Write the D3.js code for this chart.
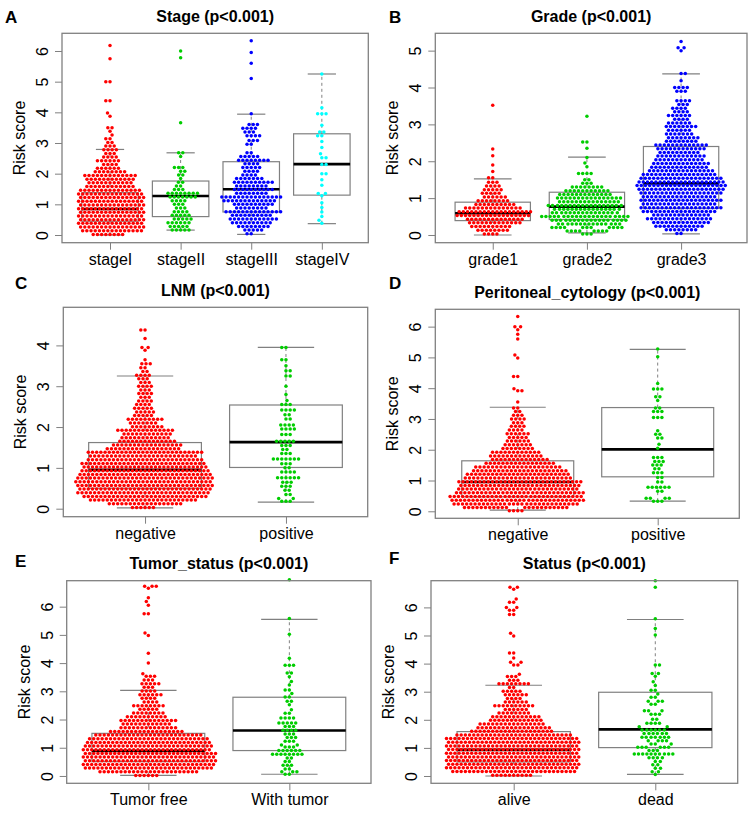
<!DOCTYPE html>
<html><head><meta charset="utf-8">
<script src="https://cdn.jsdelivr.net/npm/d3@7"></script>
<style>body{margin:0;background:#fff}svg{display:block;font-family:"Liberation Sans",Arial,sans-serif}</style>
</head><body><svg id="c" width="753" height="813"></svg>
<script>
// ---------- DATA (beeswarm rows: [risk score, number of dots]) ----------
const stageCats = ["stageI","stageII","stageIII","stageIV"];
const stageI = [[6.18,1],[5.75,1],[5.0,2],[4.38,2],[3.98,1],[3.87,1],[3.5,2],[3.38,1],[3.26,1],[3.14,2],[3.02,2],[2.9,3],[2.78,4],[2.66,3],[2.54,4],[2.42,6],[2.3,4],[2.18,6],[2.06,8],[1.94,13],[1.82,12],[1.7,11],[1.58,12],[1.46,15],[1.34,16],[1.22,16],[1.1,16],[0.98,16],[0.86,16],[0.74,16],[0.62,16],[0.5,16],[0.38,16],[0.26,16],[0.14,15],[0.02,8]];
const stageII = [[6.0,1],[5.78,1],[3.66,1],[2.68,2],[2.56,1],[2.2,3],[2.08,2],[1.96,2],[1.84,1],[1.72,2],[1.6,2],[1.48,3],[1.36,8],[1.24,7],[1.12,4],[1.0,3],[0.88,3],[0.76,4],[0.64,5],[0.52,5],[0.4,6],[0.28,5],[0.16,5]];
const stageIII = [[6.33,1],[5.95,1],[5.6,1],[5.1,1],[3.95,1],[3.6,3],[3.48,4],[3.36,3],[3.24,4],[3.08,3],[2.96,2],[2.68,2],[2.56,5],[2.44,8],[2.32,4],[2.2,5],[2.08,4],[1.96,4],[1.84,7],[1.72,10],[1.6,8],[1.48,10],[1.36,8],[1.24,15],[1.12,13],[1.0,10],[0.88,8],[0.76,14],[0.64,10],[0.52,12],[0.4,10],[0.28,8],[0.16,5],[0.04,2]];
const stageIV = [[5.25,1],[4.15,1],[3.95,3],[3.58,1],[3.36,2],[3.24,2],[3.05,1],[2.85,1],[2.65,1],[2.52,2],[2.3,2],[2.0,2],[1.8,1],[1.62,1],[1.35,2],[1.28,1],[1.05,1],[0.9,1],[0.75,1],[0.6,1],[0.48,1],[0.38,1]];
const stageBox = [[0.0,0.45,0.85,1.38,2.79],[0.16,0.6,1.27,1.76,2.68],[0.02,0.75,1.49,2.39,3.94],[0.37,1.3,2.31,3.3,5.25]];

const gradeCats = ["grade1","grade2","grade3"];
const grade1 = [[3.52,1],[2.33,1],[2.15,1],[1.9,1],[1.72,1],[1.55,2],[1.43,3],[1.33,4],[1.23,5],[1.13,5],[1.03,6],[0.93,8],[0.83,10],[0.73,14],[0.63,18],[0.53,18],[0.43,14],[0.33,13],[0.23,10],[0.13,8],[0.03,4]];
const grade2 = [[3.22,1],[2.52,2],[2.35,1],[2.1,1],[1.95,1],[1.85,1],[1.67,4],[1.5,2],[1.4,3],[1.3,8],[1.2,11],[1.1,13],[1.0,16],[0.9,15],[0.8,18],[0.7,16],[0.6,16],[0.5,21],[0.4,18],[0.3,15],[0.2,11],[0.11,8],[0.03,3]];
const grade3 = [[5.25,1],[5.08,2],[5.0,1],[4.38,2],[4.18,1],[4.0,4],[3.9,3],[3.64,4],[3.54,3],[3.44,4],[3.34,4],[3.24,6],[3.14,4],[3.04,6],[2.94,8],[2.84,6],[2.74,7],[2.64,8],[2.54,8],[2.44,13],[2.34,12],[2.24,10],[2.14,12],[2.04,12],[1.94,14],[1.84,14],[1.74,16],[1.64,18],[1.54,20],[1.44,21],[1.34,22],[1.24,21],[1.14,20],[1.04,18],[0.94,20],[0.84,18],[0.74,20],[0.64,18],[0.54,14],[0.44,16],[0.34,14],[0.24,12],[0.14,8],[0.04,2]];
const gradeBox = [[0.0,0.39,0.59,0.89,1.52],[0.06,0.42,0.77,1.16,2.11],[0.03,0.72,1.4,2.4,4.37]];

const lnmCats = ["negative","positive"];
const lnmNeg = [[4.38,2],[4.17,1],[3.95,2],[3.88,1],[3.65,1],[3.55,3],[3.45,2],[3.36,2],[3.27,4],[3.18,3],[3.09,3],[3.0,4],[2.91,3],[2.82,4],[2.73,3],[2.64,4],[2.55,4],[2.46,5],[2.37,5],[2.28,5],[2.19,9],[2.1,7],[2.01,8],[1.92,14],[1.83,12],[1.74,12],[1.65,14],[1.56,17],[1.47,18],[1.38,28],[1.29,26],[1.2,28],[1.11,30],[1.02,30],[0.93,31],[0.84,32],[0.75,33],[0.66,33],[0.57,33],[0.48,32],[0.39,32],[0.3,30],[0.21,26],[0.12,18],[0.03,6]];
const lnmPos = [[3.95,2],[3.65,2],[3.5,1],[3.38,2],[3.25,2],[3.0,1],[2.8,1],[2.65,1],[2.55,3],[2.42,4],[2.3,2],[2.2,2],[2.05,4],[1.95,4],[1.82,3],[1.65,5],[1.55,3],[1.45,2],[1.35,3],[1.22,7],[1.1,3],[1.0,2],[0.9,4],[0.76,6],[0.65,3],[0.55,3],[0.45,2],[0.35,2],[0.25,2],[0.18,3]];
const lnmBox = [[0.02,0.5,0.95,1.62,3.25],[0.16,1.01,1.63,2.54,3.95]];

const periCats = ["negative","positive"];
const periNeg = [[6.33,1],[6.0,2],[5.9,1],[5.75,1],[5.6,1],[5.08,1],[4.98,1],[4.38,2],[3.98,1],[3.92,2],[3.55,1],[3.36,2],[3.24,2],[3.12,3],[3.0,4],[2.88,3],[2.76,4],[2.64,4],[2.52,6],[2.4,5],[2.28,6],[2.16,7],[2.04,8],[1.92,12],[1.8,13],[1.68,14],[1.56,17],[1.44,21],[1.32,23],[1.2,25],[1.08,26],[0.96,30],[0.84,29],[0.72,29],[0.6,31],[0.48,32],[0.36,32],[0.24,30],[0.12,22],[0.02,4]];
const periPos = [[5.27,1],[5.02,1],[4.15,1],[3.97,3],[3.72,2],[3.6,1],[3.36,2],[3.24,3],[3.05,3],[2.62,1],[2.5,2],[2.38,2],[2.18,1],[2.05,1],[1.75,3],[1.62,3],[1.5,3],[1.38,2],[1.25,3],[1.1,2],[0.95,2],[0.78,6],[0.65,2],[0.42,4],[0.33,3]];
const periBox = [[0.04,0.47,0.95,1.64,3.38],[0.33,1.12,2.01,3.37,5.26]];

const tumorCats = ["Tumor free","With tumor"];
const tumorFree = [[6.72,3],[6.65,1],[6.32,1],[6.18,1],[6.05,1],[5.75,2],[5.07,1],[4.98,1],[4.35,1],[4.0,1],[3.62,1],[3.53,3],[3.4,3],[3.27,5],[3.14,3],[3.01,4],[2.88,6],[2.75,4],[2.62,4],[2.49,8],[2.36,5],[2.23,8],[2.1,10],[1.97,14],[1.84,12],[1.71,14],[1.58,18],[1.45,26],[1.32,29],[1.19,30],[1.06,31],[0.93,31],[0.8,32],[0.67,32],[0.54,32],[0.41,32],[0.28,31],[0.15,24],[0.02,6]];
const withTumor = [[6.95,1],[5.58,1],[5.02,1],[4.17,1],[3.92,3],[3.65,2],[3.52,1],[3.35,1],[3.22,1],[3.05,2],[2.92,1],[2.8,2],[2.65,2],[2.52,1],[2.35,1],[2.22,2],[2.05,4],[1.88,5],[1.75,3],[1.62,4],[1.49,3],[1.36,3],[1.23,3],[1.1,2],[1.03,3],[0.9,6],[0.77,8],[0.64,2],[0.51,2],[0.38,3],[0.25,2],[0.15,3],[0.06,2]];
const tumorBox = [[0.02,0.51,0.89,1.51,3.03],[0.06,0.9,1.61,2.79,5.55]];

const statusCats = ["alive","dead"];
const alive = [[6.72,2],[6.65,1],[6.3,1],[6.18,2],[6.0,2],[5.9,2],[5.75,2],[5.08,1],[4.98,1],[4.38,2],[4.2,1],[4.05,2],[3.95,2],[3.62,1],[3.54,3],[3.41,3],[3.28,8],[3.15,2],[3.02,5],[2.89,6],[2.76,4],[2.63,6],[2.5,10],[2.37,6],[2.24,8],[2.11,12],[1.98,13],[1.85,16],[1.72,18],[1.59,20],[1.46,28],[1.33,32],[1.2,32],[1.07,32],[0.94,32],[0.81,32],[0.68,32],[0.55,32],[0.42,32],[0.29,32],[0.16,30],[0.03,10]];
const dead = [[6.95,1],[6.72,1],[5.6,1],[5.25,1],[5.02,1],[3.95,2],[3.65,2],[3.55,1],[3.35,1],[3.22,1],[3.05,2],[2.92,1],[2.8,2],[2.66,3],[2.55,2],[2.32,3],[2.2,3],[2.02,2],[1.88,4],[1.75,2],[1.64,6],[1.51,6],[1.38,7],[1.25,4],[1.14,3],[1.02,6],[0.91,3],[0.78,10],[0.65,4],[0.52,2],[0.4,2],[0.28,2],[0.15,2],[0.05,1]];
const statusBox = [[0.0,0.5,0.93,1.58,3.23],[0.06,1.01,1.66,2.98,5.57]];

const titles = ["Stage (p<0.001)","Grade (p<0.001)","LNM (p<0.001)","Peritoneal_cytology (p<0.001)","Tumor_status (p<0.001)","Status (p<0.001)"];
const letters = ["A","B","C","D","E","F"];
const yTicks = [[0,1,2,3,4,5,6],[0,1,2,3,4,5],[0,1,2,3,4],[0,1,2,3,4,5,6],[0,1,2,3,4,5,6],[0,1,2,3,4,5,6]];

// ---------- LAYOUT ----------
const RED="#FF0000", GREEN="#00CD00", BLUE="#0000FF", CYAN="#00FFFF";
const panels = [
  {cats:stageCats, groups:[stageI,stageII,stageIII,stageIV], box:stageBox, cols:[RED,GREEN,BLUE,CYAN], l:62,r:368.3,t:33.3,b:242.7, xd:[0.32,4.658], yd:[-0.251,6.577], lx:5, ly:23},
  {cats:gradeCats, groups:[grade1,grade2,grade3], box:gradeBox, cols:[RED,GREEN,BLUE], l:435.3,r:747,t:33.3,b:242.7, xd:[0.39,3.70], yd:[-0.209,5.47], lx:389, ly:23},
  {cats:lnmCats, groups:[lnmNeg,lnmPos], box:lnmBox, cols:[RED,GREEN], l:63.3,r:367.7,t:307.3,b:516.7, xd:[0.42,2.58], yd:[-0.196,4.933], lx:15, ly:289},
  {cats:periCats, groups:[periNeg,periPos], box:periBox, cols:[RED,GREEN], l:435.3,r:739.3,t:309.3,b:518.3, xd:[0.411,2.583], yd:[-0.228,6.563], lx:389, ly:289},
  {cats:tumorCats, groups:[tumorFree,withTumor], box:tumorBox, cols:[RED,GREEN], l:66.7,r:371,t:580.7,b:783.3, xd:[0.421,2.579], yd:[-0.26,6.92], lx:15, ly:567},
  {cats:statusCats, groups:[alive,dead], box:statusBox, cols:[RED,GREEN], l:431,r:737.7,t:580.7,b:783.3, xd:[0.416,2.582], yd:[-0.26,6.95], lx:389, ly:564}
];

const svg = d3.select("#c");
const GREY="#808080";
const D=4.2, R=1.75;

// swarm layout: y fixed, x offset chosen as close to centre as possible without overlap
function swarm(ys){
  const order = ys.map((y,i)=>i).sort((a,b)=>ys[b]-ys[a]); // bottom (largest px) first
  const placed=[]; const xs=new Array(ys.length);
  order.forEach((idx,k)=>{
    const y=ys[idx];
    const nb = placed.filter(p=>Math.abs(p.y-y)<D);
    const cand=[0];
    nb.forEach(p=>{const dx=Math.sqrt(D*D-(p.y-y)*(p.y-y)); cand.push(p.x+dx,p.x-dx);});
    const pref = k%2===0?1:-1;
    cand.sort((a,b)=>{const d=Math.abs(a)-Math.abs(b); if(Math.abs(d)>1e-7) return d; return (Math.sign(b)===pref)-(Math.sign(a)===pref);});
    let best=0;
    for(const c of cand){
      if(nb.every(p=>(p.x-c)*(p.x-c)+(p.y-y)*(p.y-y)>=D*D-1e-4)){best=c;break;}
    }
    xs[idx]=best; placed.push({x:best,y});
  });
  return xs;
}

panels.forEach((p,pi)=>{
  const g = svg.append("g");
  const x = d3.scaleLinear().domain(p.xd).range([p.l,p.r]);
  const y = d3.scaleLinear().domain(p.yd).range([p.b,p.t]);
  const u = x(1)-x(0);
  // boxes
  p.box.forEach((s,i)=>{
    const cx = x(i+1), hw=0.4*u, cw=0.2*u;
    const bg = g.append("g").attr("fill","none").attr("stroke",GREY);
    bg.append("line").attr("x1",cx).attr("x2",cx).attr("y1",y(s[3])).attr("y2",y(s[4])).attr("stroke-dasharray","3,3");
    bg.append("line").attr("x1",cx).attr("x2",cx).attr("y1",y(s[0])).attr("y2",y(s[1])).attr("stroke-dasharray","3,3");
    bg.append("line").attr("x1",cx-cw).attr("x2",cx+cw).attr("y1",y(s[4])).attr("y2",y(s[4])).attr("stroke-width",1.2);
    bg.append("line").attr("x1",cx-cw).attr("x2",cx+cw).attr("y1",y(s[0])).attr("y2",y(s[0])).attr("stroke-width",1.2);
    bg.append("rect").attr("x",cx-hw).attr("width",2*hw).attr("y",y(s[3])).attr("height",y(s[1])-y(s[3])).attr("stroke-width",1.2);
    bg.append("line").attr("x1",cx-hw).attr("x2",cx+hw).attr("y1",y(s[2])).attr("y2",y(s[2])).attr("stroke","#000").attr("stroke-width",2.6);
  });
  // points
  p.groups.forEach((rows,i)=>{
    const cx = x(i+1);
    const ys=[];
    rows.forEach(([v,n])=>{ for(let k=0;k<n;k++) ys.push(y(v)); });
    const xs = swarm(ys);
    const pts = ys.map((yy,j)=>({x:cx+xs[j], y:yy}));
    g.append("g").selectAll("circle").data(pts).join("circle")
      .attr("cx",d=>d.x).attr("cy",d=>d.y).attr("r",R).attr("fill",p.cols[i]);
  });
  // frame
  g.append("rect").attr("x",p.l).attr("y",p.t).attr("width",p.r-p.l).attr("height",p.b-p.t)
    .attr("fill","none").attr("stroke",GREY).attr("stroke-width",1.3);
  // y axis
  const ya = g.append("g").attr("transform",`translate(${p.l},0)`)
    .call(d3.axisLeft(y).tickValues(yTicks[pi]).tickSize(7).tickFormat(d3.format("d")));
  ya.select(".domain").remove();
  ya.selectAll("line").attr("stroke",GREY);
  ya.selectAll("text").attr("transform","rotate(-90)").attr("x",0).attr("y",-14).attr("dy",0)
    .attr("text-anchor","middle").attr("font-size",16).attr("font-family","Liberation Sans, Arial, sans-serif").attr("fill","#000");
  // x axis
  const xa = g.append("g").attr("transform",`translate(0,${p.b})`)
    .call(d3.axisBottom(x).tickValues(p.cats.map((c,i)=>i+1)).tickSize(7).tickFormat((d)=>p.cats[d-1]));
  xa.select(".domain").remove();
  xa.selectAll("line").attr("stroke",GREY);
  xa.selectAll("text").attr("y",22).attr("dy",0).attr("font-size",16)
    .attr("font-family","Liberation Sans, Arial, sans-serif").attr("fill","#000");
  // y label
  g.append("text").attr("transform",`translate(${p.l-37},${(p.t+p.b)/2}) rotate(-90)`)
    .attr("text-anchor","middle").attr("font-size",16).text("Risk score");
  // title
  g.append("text").attr("x",(p.l+p.r)/2).attr("y",p.t-11.5).attr("text-anchor","middle")
    .attr("font-size",16).attr("font-weight","bold").text(titles[pi]);
  // letter
  g.append("text").attr("x",p.lx).attr("y",p.ly).attr("font-size",17).attr("font-weight","bold").text(letters[pi]);
});
</script></body></html>
